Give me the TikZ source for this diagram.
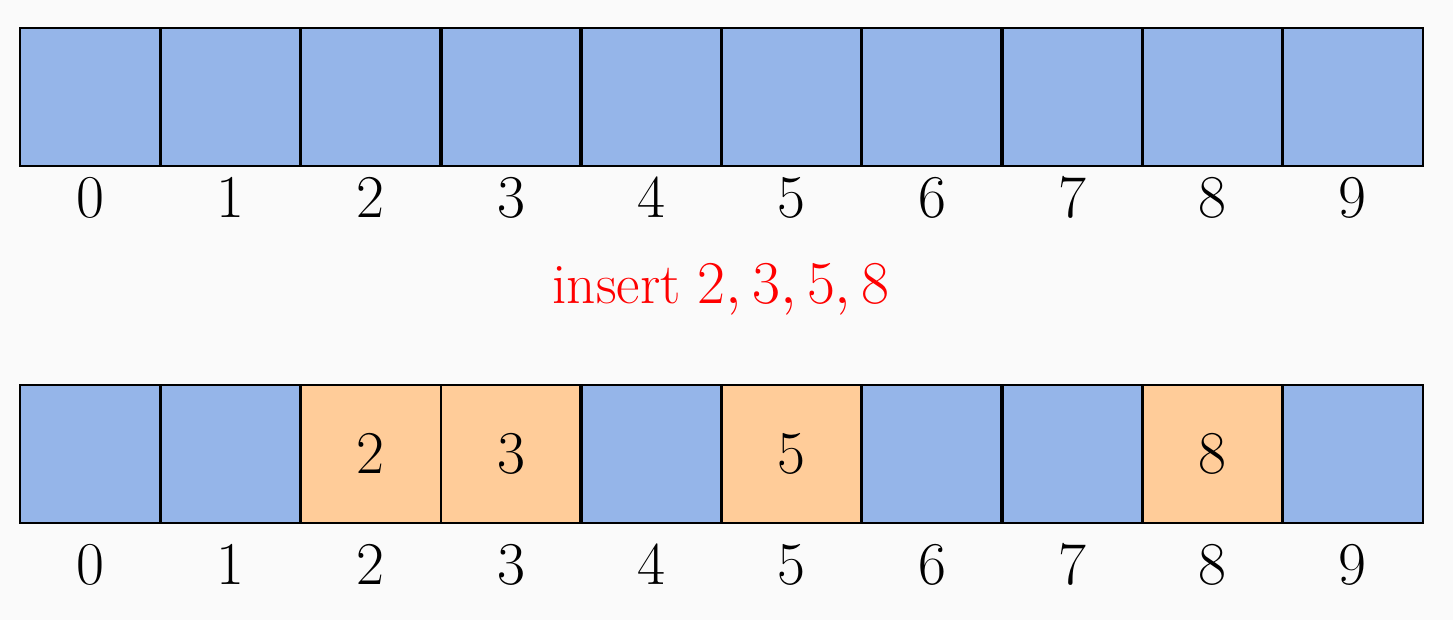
\documentclass[tikz,border=0pt]{standalone}
\definecolor{bg}{HTML}{FAFAFA}
\definecolor{cellblue}{HTML}{95B5E9}
\definecolor{cellorange}{HTML}{FFCC99}
\begin{document}
\begin{tikzpicture}[x=0.01cm,y=0.01cm,
  every node/.style={font=\fontsize{16.3}{20}\selectfont},
  bluecell/.style={draw=black,fill=cellblue,line width=0.57pt,minimum width=1.403cm,minimum height=1.38cm,inner sep=0pt,outer sep=0pt},
  orangecell/.style={draw=black,fill=cellorange,line width=0.57pt,minimum width=1.403cm,minimum height=1.38cm,inner sep=0pt,outer sep=0pt},
  divider/.style={draw=black,line width=0.95pt},
  idx/.style={inner sep=0pt}]
\fill[bg] (0,0) rectangle (1453,620);
\useasboundingbox (0,0) rectangle (1453,620);
% top row
\foreach \i in {0,...,9}{
  \node[bluecell] (t\i) at ({20+140.3*\i+70.15},523) {};
  \node[idx] (tl\i) at ({20+140.3*\i+70.15},422) {$\i$};
}
\foreach \i in {1,...,9}{
  \draw[divider] (t\i.north west) -- (t\i.south west);
}
% insert label
\node[text=red] (ins) at (721,330) {insert $2,3,5,8$};
% bottom row
\foreach \i in {0,1,4,6,7,9}{
  \node[bluecell] (b\i) at ({20+140.3*\i+70.15},166) {};
}
\foreach \i in {2,3,5,8}{
  \node[orangecell] (b\i) at ({20+140.3*\i+70.15},166) {$\i$};
}
\foreach \i in {1,2,4,5,6,7,8,9}{
  \draw[divider] (b\i.north west) -- (b\i.south west);
}
\foreach \i in {0,...,9}{
  \node[idx] (bl\i) at ({20+140.3*\i+70.15},55) {$\i$};
}
\end{tikzpicture}
\end{document}
